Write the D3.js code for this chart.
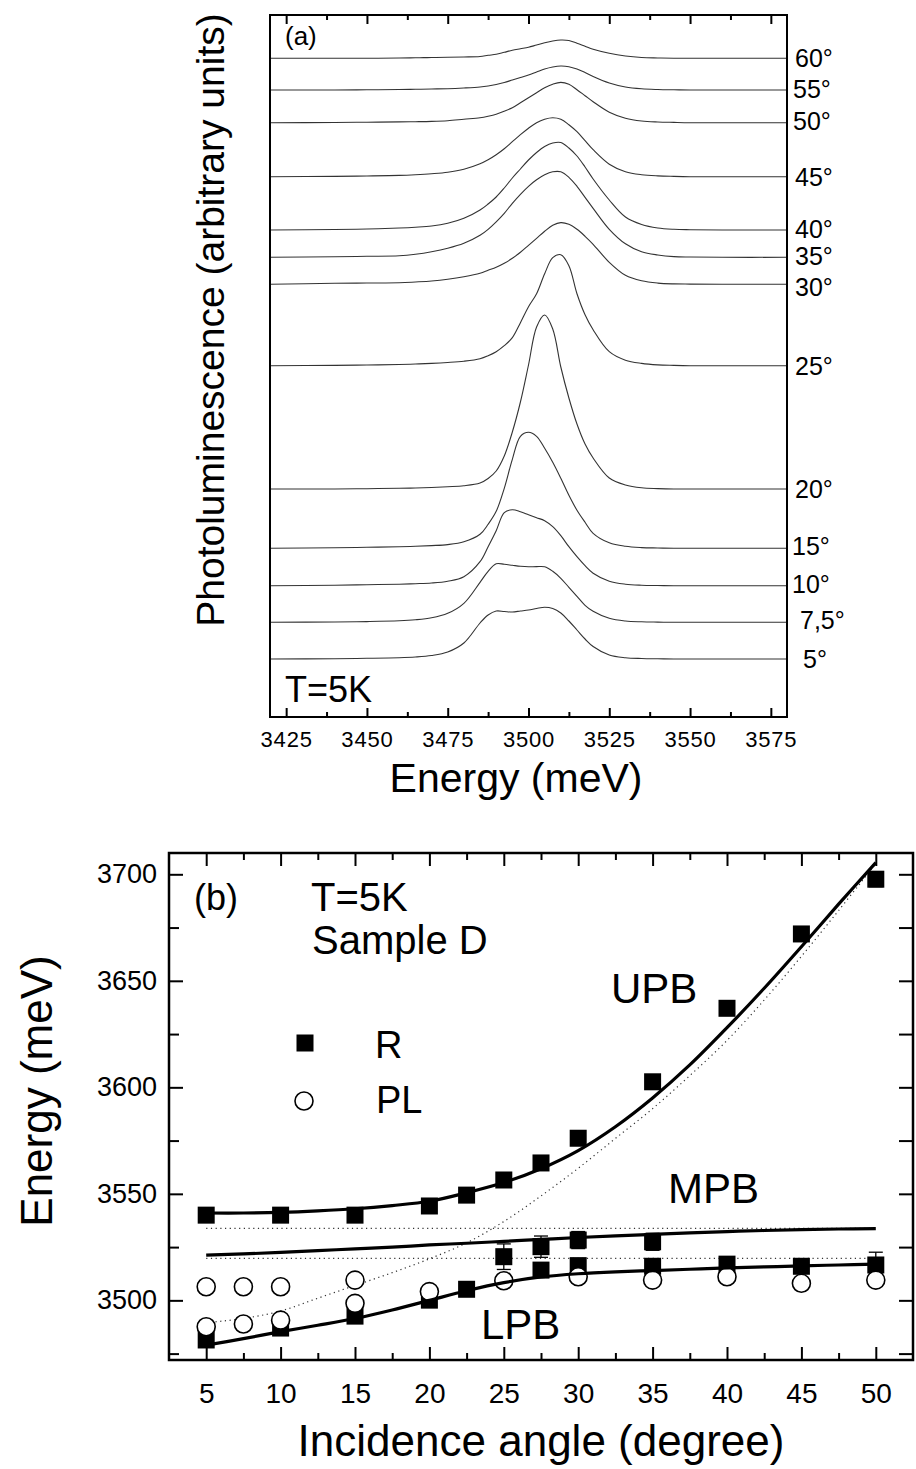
<!DOCTYPE html>
<html><head><meta charset="utf-8">
<script src="https://cdn.jsdelivr.net/npm/d3@7/dist/d3.min.js"></script>
<style>
body{margin:0;background:#fff}
svg{display:block}
</style>
</head><body>
<svg id="c" width="916" height="1469"></svg>
<script>
// ---------- Panel (a) data ----------
const energies = [3420,3440,3450,3460,3465,3470,3475,3480,3485,3487.5,3490,3492.5,3495,3497.5,3500,3502.5,3505,3507.5,3510,3512.5,3515,3517.5,3520,3525,3530,3535,3540,3545,3550,3560,3580];
const angleLabels = ["60°","55°","50°","45°","40°","35°","30°","25°","20°","15°","10°","7,5°","5°"];
const offsets = [658.7,627,594.3,540.3,487,459.7,432.7,351.3,228,168.7,131.3,94.7,58];
const spec60 = [0,0,0,0.3,0.5,0.8,1,1.3,1.8,3,4,6,8,9.5,11,13.3,15.5,17.3,18.3,17.8,15,12,9,5,2.3,0.8,0.3,0,0,0,0];
const spec55 = [0,0,0.2,0.5,0.7,1,1.3,2,3,4,5.5,7.5,10,12.5,15,18,21,23,24,23.3,21,17.5,13.5,7,3,1.2,0.5,0.2,0,0,0];
const spec50 = [0,0.2,0.5,0.8,1,1.3,2,3.5,5,6.5,8.5,11.5,15,20,25,30,35,38.5,40.3,38.5,33,27,21,10.5,4.5,1.7,0.7,0.3,0,0,0];
const spec45 = [0,0.3,0.7,1.3,2,3,4.5,7.5,13,17,22,28,35,42,48.5,54,57.5,59,57.5,52,45,36,27,12.5,5,2,0.8,0.3,0,0,0];
const spec40 = [0,0.5,1,2,2.8,4,6.7,11.7,20,26,33,42,52,61,70,77.5,83.5,87,87.5,82,74,63,51,30,13,5.5,2,0.7,0.3,0,0];
const spec35 = [0,0.5,1,1.5,3,5.5,9,14,22,28,35.5,44,54,63,71,77.5,82.5,85.5,85.5,80,71,60,49,28,13.5,5.5,2.3,0.7,0.3,0,0];
const spec30 = [0,1,1.3,1.5,2.3,3.3,5,7.5,11,14,17,21,26,32,39,46,53,59,61.7,60,55,48,40,22,9,3.5,1.2,0.4,0.2,0,0];
const spec25 = [0,0.3,0.7,1.2,1.7,2.3,3.2,4.5,7,10,14,20,28,43,59,72,92,108,111,100,72,51,36,14,5.5,2.3,0.8,0.3,0,0,0];
const spec20 = [0,0,0.3,0.7,1,1.5,2.3,3.3,6,10.5,18,33,57,87,124,162,174,160,122,91,65,45,31,11,4,1.2,0.4,0,0,0,0];
const spec15 = [0,0.5,1,1.5,2,2.7,3.7,6.5,14,24,37,60,89,112,116,112,100,86,70,53,38,26,15,5.5,2,0.7,0.3,0,0,0,0];
const spec10 = [0,0.5,1,1.5,2,2.7,4.5,9,24,39,55,73,76,74,71,68,65,59,50,39,29,20,12.5,4.5,1.5,0.5,0.2,0,0,0,0];
const spec7_5 = [0,0.3,0.7,1.5,2.5,4.5,9,19,40,51,58.5,58,57,56,55.5,55.7,55.5,51,44,35,26,17,11,4,1.3,0.5,0.2,0,0,0,0];
const spec5 = [0,0.3,0.7,1.3,2,3.5,7,16,36,44,48,47.5,47,48,49,50.5,51.7,50.5,46,38,29,20,12.5,4,1.3,0.5,0.2,0,0,0,0];
const spectra = [spec60,spec55,spec50,spec45,spec40,spec35,spec30,spec25,spec20,spec15,spec10,spec7_5,spec5];
const energyTicks = [3425,3450,3475,3500,3525,3550,3575];
const energyMinor = [3437.5,3462.5,3487.5,3512.5,3537.5,3562.5];

// ---------- Panel (b) data ----------
const rUpAngle = [5,10,15,20,22.5,25,27.5,30,35,40,45,50];
const rUpEnergy = [3540,3540,3540,3544.3,3549.4,3556.5,3564.5,3576.1,3602.6,3637.1,3672,3697.7];
const rUpErr = [3,2.5,3,1.5,1.5,1.5,1.5,2,2,3,3,3.5];
const rMidAngle = [25,27.5,30,35];
const rMidEnergy = [3520.5,3525.2,3528.3,3527.5];
const rMidErr = [6,5,4,4];
const rLowAngle = [5,10,15,20,22.5,27.5,30,35,40,45,50];
const rLowEnergy = [3481.4,3487,3492.6,3500.1,3505.2,3514.2,3516.3,3516,3517,3516,3516.6];
const rLowErr = [2,2,2,2,2,2,2,2,2,2,6];
const plAngle = [5,5,7.5,7.5,10,10,15,15,20,25,30,35,40,45,50];
const plEnergy = [3506.4,3487.6,3506.4,3488.9,3506.4,3490.7,3509.5,3498.6,3504.1,3509.2,3511.1,3509.5,3511.1,3508,3509.5];
const fitAngle = [5,7.5,10,12.5,15,17.5,20,22.5,25,27.5,30,32.5,35,37.5,40,42.5,45,47.5,50];
const upbFit = [3541,3541,3541.3,3542,3543,3544.5,3546.5,3550.5,3555.3,3561.8,3570.3,3581.5,3595,3610.5,3628,3646.5,3666,3686,3705.5];
const mpbFit = [3521.2,3521.8,3522.5,3523.3,3524.2,3525,3526,3526.8,3527.7,3528.6,3529.5,3530.3,3531,3531.7,3532.3,3532.8,3533.2,3533.5,3533.7];
const lpbFit = [3479,3482,3485.3,3488.3,3491.5,3495.5,3500,3504.5,3508.3,3511,3512.5,3513.4,3514,3514.6,3515.2,3515.7,3516.2,3516.6,3517];
const photonMode = [3489.5,3491.5,3495,3501,3507,3513,3519.5,3527,3537,3549,3562,3576,3590,3605.5,3622,3641,3661.5,3683,3705];
const excitonA = [3533.8,3533.8];
const excitonB = [3519.7,3519.7];
const excitonAngle = [5,50];
const angleTicks = [5,10,15,20,25,30,35,40,45,50];
const angleMinor = [7.5,12.5,17.5,22.5,27.5,32.5,37.5,42.5,47.5];
const bEnergyTicks = [3500,3550,3600,3650,3700];
const bEnergyMinor = [3475,3525,3575,3625,3675];

const FONT = 'Arial, "Liberation Sans", Helvetica, sans-serif';
const svg = d3.select('#c');

function styleAxis(g, size){
  g.select('.domain').remove();
  g.selectAll('line').attr('stroke','#000').attr('stroke-width',2);
  g.selectAll('text').attr('font-family',FONT).attr('font-size',size).attr('fill','#000');
}

// ================= Panel (a) =================
const A = {l:270, r:787, t:15, b:717};
const xA = d3.scaleLinear().domain([3420,3580]).range([A.l, A.r]);
const yA = d3.scaleLinear().domain([0,702]).range([A.b, A.t]);

const specLine = d3.line().x(d=>xA(d[0])).y(d=>yA(d[1])).curve(d3.curveCatmullRom.alpha(0.5));
spectra.forEach((s,i)=>{
  svg.append('path')
    .datum(energies.map((e,j)=>[e, offsets[i]+s[j]]))
    .attr('d', specLine).attr('fill','none').attr('stroke','#333').attr('stroke-width',1.1);
});

// axes (a)
let g = svg.append('g').attr('transform',`translate(0,${A.b})`)
  .call(d3.axisBottom(xA).tickValues(energyTicks).tickSizeInner(-9).tickSizeOuter(0).tickPadding(14).tickFormat(d3.format('d')));
styleAxis(g,22);
g.selectAll('text').attr('letter-spacing','0.8px');
g = svg.append('g').attr('transform',`translate(0,${A.b})`)
  .call(d3.axisBottom(xA).tickValues(energyMinor).tickSizeInner(-5).tickSizeOuter(0).tickFormat(''));
styleAxis(g,22);
g = svg.append('g').attr('transform',`translate(0,${A.t})`)
  .call(d3.axisTop(xA).tickValues(energyTicks).tickSizeInner(-9).tickSizeOuter(0).tickFormat(''));
styleAxis(g,22);
g = svg.append('g').attr('transform',`translate(0,${A.t})`)
  .call(d3.axisTop(xA).tickValues(energyMinor).tickSizeInner(-5).tickSizeOuter(0).tickFormat(''));
styleAxis(g,22);

svg.append('rect').attr('x',A.l).attr('y',A.t).attr('width',A.r-A.l).attr('height',A.b-A.t)
  .attr('fill','none').attr('stroke','#000').attr('stroke-width',2);

// angle labels
const labelDx = {"7,5°":5, "5°":8, "15°":-3, "10°":-3, "55°":-2, "50°":-2};
const labelDy = {"30°":3, "40°":-1, "35°":-1, "55°":-1, "50°":-2, "15°":-2, "10°":-2, "7,5°":-2};
angleLabels.forEach((t,i)=>{
  svg.append('text').attr('x', A.r + 8 + (labelDx[t]||0)).attr('y', yA(offsets[i]) + 9 + (labelDy[t]||0))
    .attr('font-family',FONT).attr('font-size',25).text(t);
});

svg.append('text').attr('x',285).attr('y',45).attr('font-family',FONT).attr('font-size',26).text('(a)');
svg.append('text').attr('x',285).attr('y',702).attr('font-family',FONT).attr('font-size',36).text('T=5K');
svg.append('text').attr('x',516).attr('y',792).attr('text-anchor','middle').attr('font-family',FONT).attr('font-size',41).text('Energy (meV)');
svg.append('text').attr('transform','translate(224,320) rotate(-90)').attr('text-anchor','middle')
  .attr('font-family',FONT).attr('font-size',39).text('Photoluminescence (arbitrary units)');

// ================= Panel (b) =================
const B = {l:169, r:913, t:853, b:1360};
const xB = d3.scaleLinear().domain([2.5,52.5]).range([B.l, B.r]);
const yB = d3.scaleLinear().domain([3472,3710]).range([B.b, B.t]);

g = svg.append('g').attr('transform',`translate(0,${B.b})`)
  .call(d3.axisBottom(xB).tickValues(angleTicks).tickSizeInner(-13).tickSizeOuter(0).tickPadding(23).tickFormat(d3.format('d')));
styleAxis(g,28);
g = svg.append('g').attr('transform',`translate(0,${B.b})`)
  .call(d3.axisBottom(xB).tickValues(angleMinor).tickSizeInner(-7).tickSizeOuter(0).tickFormat(''));
styleAxis(g,28);
g = svg.append('g').attr('transform',`translate(0,${B.t})`)
  .call(d3.axisTop(xB).tickValues(angleTicks).tickSizeInner(-13).tickSizeOuter(0).tickFormat(''));
styleAxis(g,28);
g = svg.append('g').attr('transform',`translate(0,${B.t})`)
  .call(d3.axisTop(xB).tickValues(angleMinor).tickSizeInner(-7).tickSizeOuter(0).tickFormat(''));
styleAxis(g,28);
g = svg.append('g').attr('transform',`translate(${B.l},0)`)
  .call(d3.axisLeft(yB).tickValues(bEnergyTicks).tickSizeInner(-14).tickSizeOuter(0).tickPadding(12).tickFormat(d3.format('d')));
styleAxis(g,27);
g = svg.append('g').attr('transform',`translate(${B.l},0)`)
  .call(d3.axisLeft(yB).tickValues(bEnergyMinor).tickSizeInner(-10).tickSizeOuter(0).tickFormat(''));
styleAxis(g,27);
g = svg.append('g').attr('transform',`translate(${B.r},0)`)
  .call(d3.axisRight(yB).tickValues(bEnergyTicks.concat(bEnergyMinor)).tickSizeInner(-14).tickSizeOuter(0).tickFormat(''));
styleAxis(g,27);

// dotted lines
const fitLine = d3.line().x(d=>xB(d[0])).y(d=>yB(d[1])).curve(d3.curveCatmullRom.alpha(0.5));
[[excitonAngle,excitonA],[excitonAngle,excitonB],[fitAngle,photonMode]].forEach(([xs,ys])=>{
  svg.append('path').datum(xs.map((a,i)=>[a,ys[i]])).attr('d',fitLine)
    .attr('fill','none').attr('stroke','#333').attr('stroke-width',1.2).attr('stroke-dasharray','1.2,3.5');
});

// error bars
function errBars(xs, ys, es){
  xs.forEach((a,i)=>{
    const x = xB(a), y1 = yB(ys[i]-es[i]), y2 = yB(ys[i]+es[i]);
    svg.append('line').attr('x1',x).attr('x2',x).attr('y1',y1).attr('y2',y2).attr('stroke','#000').attr('stroke-width',1.3);
    [y1,y2].forEach(yy=>svg.append('line').attr('x1',x-7).attr('x2',x+7).attr('y1',yy).attr('y2',yy).attr('stroke','#000').attr('stroke-width',1.3));
  });
}
errBars(rUpAngle,rUpEnergy,rUpErr);
errBars(rMidAngle,rMidEnergy,rMidErr);
errBars(rLowAngle,rLowEnergy,rLowErr);

// squares
const SQ = 17;
function squares(xs, ys){
  xs.forEach((a,i)=>{
    svg.append('rect').attr('x',xB(a)-SQ/2).attr('y',yB(ys[i])-SQ/2).attr('width',SQ).attr('height',SQ).attr('fill','#000');
  });
}
squares(rUpAngle,rUpEnergy);
squares(rMidAngle,rMidEnergy);
squares(rLowAngle,rLowEnergy);

// circles
plAngle.forEach((a,i)=>{
  svg.append('circle').attr('cx',xB(a)).attr('cy',yB(plEnergy[i])).attr('r',9)
    .attr('fill','#fff').attr('stroke','#000').attr('stroke-width',1.6);
});

// solid fits
[upbFit,mpbFit,lpbFit].forEach(ys=>{
  svg.append('path').datum(fitAngle.map((a,i)=>[a,ys[i]])).attr('d',fitLine)
    .attr('fill','none').attr('stroke','#000').attr('stroke-width',3.2);
});

svg.append('rect').attr('x',B.l).attr('y',B.t).attr('width',B.r-B.l).attr('height',B.b-B.t)
  .attr('fill','none').attr('stroke','#000').attr('stroke-width',2.5);

// texts (b)
const T = (x,y,s,t,anchor)=>svg.append('text').attr('x',x).attr('y',y).attr('font-family',FONT).attr('font-size',s).attr('text-anchor',anchor||'start').text(t);
T(194,910,36,'(b)');
T(311,911,40,'T=5K');
T(312,954,40,'Sample D');
svg.append('rect').attr('x',305-SQ/2).attr('y',1043-SQ/2).attr('width',SQ).attr('height',SQ).attr('fill','#000');
T(375,1058,38,'R');
svg.append('circle').attr('cx',304).attr('cy',1101).attr('r',9).attr('fill','#fff').attr('stroke','#000').attr('stroke-width',1.6);
T(376,1113,38,'PL');
T(611,1003,42,'UPB');
T(668,1203,42,'MPB');
T(481,1339,42,'LPB');
T(541,1456,44,'Incidence angle (degree)','middle');
svg.append('text').attr('transform','translate(52,1091) rotate(-90)').attr('text-anchor','middle')
  .attr('font-family',FONT).attr('font-size',44).text('Energy (meV)');
</script>
</body></html>
